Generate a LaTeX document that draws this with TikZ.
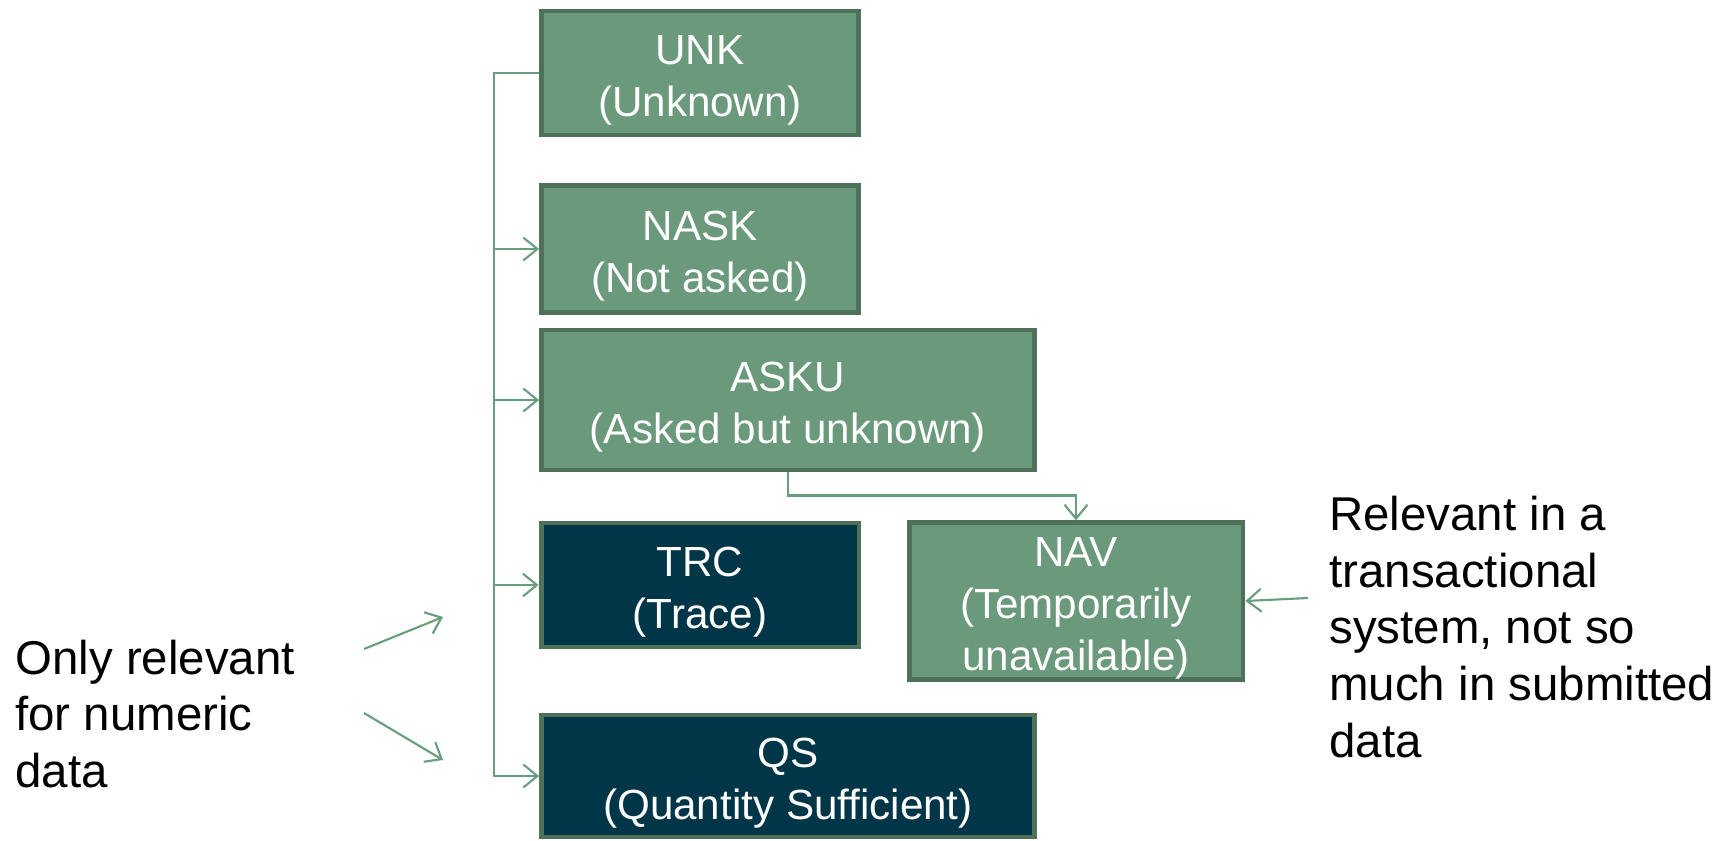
\documentclass[tikz,border=0pt]{standalone}
\usepackage{fontspec}
\setmainfont{Liberation Sans}
\usepackage{xcolor}
\usetikzlibrary{arrows.meta, positioning}

\definecolor{boxgreen}{RGB}{106,153,124}
\definecolor{boxedge}{RGB}{78,113,89}
\definecolor{boxnavy}{RGB}{0,54,71}
\definecolor{linkgreen}{RGB}{104,158,124}

\newcommand{\boxstrut}{\rule{0pt}{25pt}}

\tikzset{
  flavor/.style={draw=boxedge, line width=2.8pt, fill=boxgreen, text=white,
    align=center, inner sep=0pt, font=\fontsize{24}{29.5}\selectfont},
  flavordark/.style={flavor, fill=boxnavy},
  link/.style={draw=linkgreen, line width=1.2pt},
  note/.style={align=left, inner sep=0pt, font=\fontsize{27}{32.4}\selectfont}
}

\begin{document}
\begin{tikzpicture}[x=0.02cm, y=-0.02cm, >={Straight Barb[length=8pt,width=13pt]}]
  \useasboundingbox (0,0) rectangle (1733,841);

  \node[flavor, minimum width=6.34cm, minimum height=2.48cm] (UNK) at (700,73) {\boxstrut UNK\\(Unknown)};
  \node[flavor, minimum width=6.34cm, minimum height=2.54cm] (NASK) at (700,249) {\boxstrut NASK\\(Not asked)};
  \node[flavor, minimum width=9.86cm, minimum height=2.8cm] (ASKU) at (788,400) {\boxstrut ASKU\\(Asked but unknown)};
  \node[flavordark, minimum width=6.36cm, minimum height=2.48cm] (TRC) at (700,585) {\boxstrut TRC\\(Trace)};
  \node[flavor, minimum width=6.68cm, minimum height=3.12cm] (NAV) at (1076,601) {\boxstrut NAV\\(Temporarily\\unavailable)};
  \node[flavordark, minimum width=9.86cm, minimum height=2.44cm] (QS) at (788,776) {\boxstrut QS\\(Quantity Sufficient)};

  \node[note, anchor=west] (numnote) at (15,714) {Only relevant\\for numeric\\data};
  \node[note, anchor=west] (navnote) at (1329,627) {Relevant in a\\transactional\\system, not so\\much in submitted\\data};

  % bus on the left
  \draw[link, ->] (UNK.west) -- ++(-45,0) coordinate (bus) |- (QS.west);
  \foreach \n in {NASK, ASKU, TRC}
    \draw[link, ->] (bus |- \n.west) -- (\n.west);

  \draw[link, ->] (ASKU.south) -- ++(0,23) -| (NAV.north);

  % pointers from the notes
  \coordinate (numfromA) at (364,649);
  \coordinate (numtoA) at (443,617);
  \coordinate (numfromB) at (364,713);
  \coordinate (numtoB) at (443,760);
  \coordinate (navfrom) at (1308,598);
  \draw[link, ->] (numfromA) -- (numtoA);
  \draw[link, ->] (numfromB) -- (numtoB);
  \draw[link, ->] (navfrom) -- (NAV.east);
\end{tikzpicture}
\end{document}
